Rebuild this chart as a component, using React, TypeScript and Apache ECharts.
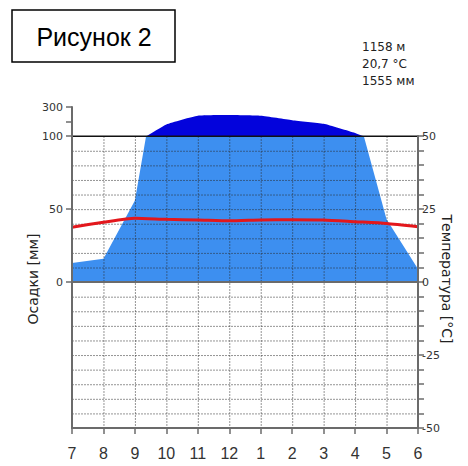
import React, { useEffect, useRef } from "react";
import * as echarts from "echarts";

const months = ["7", "8", "9", "10", "11", "12", "1", "2", "3", "4", "5", "6"];
const precipitation = [13, 16, 56, 180, 240, 245, 240, 210, 185, 122, 43, 9];
const temperature = [18.8, 20.5, 21.9, 21.5, 21.3, 21.0, 21.3, 21.4, 21.3, 20.7, 20.1, 19.0];
const leftTickValues = [0, 25, 50, 55, 60];
const leftLabelValues = [0, 25, 50, 60];
const leftLabelText: Record<number, string> = { 0: "0", 25: "50", 50: "100", 60: "300" };
const infoLines = ["1158 м", "20,7 °C", "1555 мм"];
const figureTitle = "Рисунок 2";

const LIGHT = "#3d8ff0";
const DARK = "#0303dc";
const RED = "#e3171c";
const AXIS = "#6b6b6b";

// precipitation (mm) -> temperature-equivalent scale (Walter-Lieth)
const toScale = (p: number) => (p <= 100 ? p / 2 : 50 + (p - 100) / 20);

function lightPoints(): number[][] {
  const pts: number[][] = [];
  for (let i = 0; i < precipitation.length; i++) {
    const p = precipitation[i];
    pts.push([i, Math.min(p, 100) / 2]);
    if (i < precipitation.length - 1) {
      const q = precipitation[i + 1];
      if ((p - 100) * (q - 100) < 0) {
        pts.push([i + (100 - p) / (q - p), 50]);
      }
    }
  }
  pts.push([precipitation.length - 1, 0]);
  pts.push([0, 0]);
  return pts;
}

function darkPoints(): number[][] {
  const pts: number[][] = [];
  for (let i = 0; i < precipitation.length; i++) {
    const p = precipitation[i];
    pts.push([i, Math.max(50, toScale(p))]);
    if (i < precipitation.length - 1) {
      const q = precipitation[i + 1];
      if ((p - 100) * (q - 100) < 0) {
        pts.push([i + (100 - p) / (q - p), 50]);
      }
    }
  }
  pts.push([precipitation.length - 1, 50]);
  pts.push([0, 50]);
  return pts;
}

function gridLines(): number[][] {
  const lines: number[][] = [];
  for (let i = 1; i < months.length - 1; i++) lines.push([i, -50, i, 50]);
  for (let v = -45; v <= 45; v += 5) {
    if (v !== 0) lines.push([0, v, months.length - 1, v]);
  }
  return lines;
}

export default function App() {
  const ref = useRef<HTMLDivElement>(null);

  useEffect(() => {
    if (!ref.current) return;
    const chart = echarts.init(ref.current, undefined, { renderer: "svg" });
    const last = months.length - 1;

    const option: any = {
      animation: false,
      backgroundColor: "#ffffff",
      grid: [
        { left: 72, right: 50, top: 107, bottom: 38 },
        { left: 72, right: 50, top: 136, bottom: 38 },
      ],
      xAxis: [
        {
          type: "value",
          gridIndex: 0,
          min: 0,
          max: last,
          interval: 1,
          z: 5,
          axisLine: { show: true, onZero: false, lineStyle: { color: AXIS, width: 2 } },
          axisTick: { show: true, length: 6, lineStyle: { color: AXIS, width: 1.5 } },
          axisLabel: {
            margin: 17,
            color: "#333",
            fontSize: 16,
            fontFamily: "Liberation Sans",
            formatter: (v: number) => months[Math.round(v)] ?? "",
          },
          splitLine: { show: false },
        },
        {
          type: "value",
          gridIndex: 1,
          min: 0,
          max: last,
          show: false,
        },
      ],
      yAxis: [
        {
          type: "value",
          gridIndex: 0,
          position: "left",
          min: -50,
          max: 60,
          interval: 5,
          z: 5,
          axisLine: { show: true, onZero: false, lineStyle: { color: AXIS, width: 2 } },
          axisTick: {
            show: true,
            length: 6,
            customValues: leftTickValues,
            lineStyle: { color: AXIS, width: 1.5 },
          },
          axisLabel: {
            margin: 9,
            color: "#333",
            fontSize: 11,
            fontFamily: "DejaVu Sans",
            customValues: leftLabelValues,
            formatter: (v: number) => leftLabelText[v] ?? "",
          },
          splitLine: { show: false },
        },
        {
          type: "value",
          gridIndex: 1,
          position: "right",
          min: -50,
          max: 50,
          interval: 5,
          z: 5,
          axisLine: { show: true, onZero: false, lineStyle: { color: AXIS, width: 2 } },
          axisTick: { show: true, length: 6, lineStyle: { color: AXIS, width: 1.5 } },
          axisLabel: {
            margin: 4,
            color: "#333",
            fontSize: 11,
            fontFamily: "DejaVu Sans",
            formatter: (v: number) => (v % 25 === 0 ? String(v) : ""),
          },
          splitLine: { show: false },
        },
      ],
      series: [
        {
          type: "custom",
          name: "humid",
          xAxisIndex: 0,
          yAxisIndex: 0,
          z: 1,
          silent: true,
          data: [[0, 0]],
          renderItem: (params: any, api: any) => ({
            type: "polygon",
            shape: { points: lightPoints().map((p) => api.coord(p)) },
            style: { fill: LIGHT },
          }),
        },
        {
          type: "custom",
          name: "perhumid",
          xAxisIndex: 0,
          yAxisIndex: 0,
          z: 1,
          silent: true,
          data: [[0, 50]],
          renderItem: (params: any, api: any) => ({
            type: "polygon",
            shape: { points: darkPoints().map((p) => api.coord(p)), smooth: 0.15 },
            style: { fill: DARK },
          }),
        },
        {
          type: "custom",
          name: "grid",
          xAxisIndex: 0,
          yAxisIndex: 0,
          z: 2,
          silent: true,
          encode: { x: [0, 2], y: [1, 3] },
          data: gridLines(),
          renderItem: (params: any, api: any) => {
            const a = api.coord([api.value(0), api.value(1)]);
            const b = api.coord([api.value(2), api.value(3)]);
            return {
              type: "line",
              shape: { x1: a[0] + 0.5, y1: a[1] + 0.5, x2: b[0] + 0.5, y2: b[1] + 0.5 },
              style: { stroke: "#2a2a2a", lineWidth: 1, lineDash: [1, 2] },
            };
          },
        },
        {
          type: "custom",
          name: "refLines",
          xAxisIndex: 0,
          yAxisIndex: 0,
          z: 3,
          silent: true,
          encode: { x: [0, 2], y: [1, 3] },
          data: [
            [0, 0, last, 0, 0],
            [0, 50, last, 50, 1],
          ],
          renderItem: (params: any, api: any) => {
            const a = api.coord([api.value(0), api.value(1)]);
            const b = api.coord([api.value(2), api.value(3)]);
            const top = api.value(4) === 1;
            return {
              type: "line",
              shape: { x1: a[0], y1: a[1], x2: b[0], y2: b[1] },
              style: { stroke: top ? "#111" : AXIS, lineWidth: top ? 1.5 : 2 },
            };
          },
        },
        {
          type: "line",
          name: "temperature",
          xAxisIndex: 0,
          yAxisIndex: 0,
          z: 4,
          smooth: 0.2,
          symbol: "none",
          lineStyle: { color: RED, width: 3 },
          data: temperature.map((t, i) => [i, t]),
        },
      ],
      graphic: [
        {
          type: "rect",
          shape: { x: 12, y: 10, width: 163, height: 52 },
          style: { fill: "#fff", stroke: "#000", lineWidth: 1.5 },
        },
        {
          type: "text",
          x: 94,
          y: 37,
          style: {
            text: figureTitle,
            fill: "#000",
            fontSize: 25,
            fontFamily: "Liberation Sans",
            align: "center",
            verticalAlign: "middle",
          },
        },
        ...infoLines.map((t, i) => ({
          type: "text",
          x: 362,
          y: 47 + i * 17,
          style: {
            text: t,
            fill: "#222",
            fontSize: 12,
            fontFamily: "DejaVu Sans",
            align: "left",
            verticalAlign: "middle",
          },
        })),
        {
          type: "text",
          x: 33,
          y: 279,
          rotation: Math.PI / 2,
          style: {
            text: "Осадки [мм]",
            fill: "#222",
            fontSize: 14,
            fontFamily: "DejaVu Sans",
            align: "center",
            verticalAlign: "middle",
          },
        },
        {
          type: "text",
          x: 447,
          y: 279,
          rotation: -Math.PI / 2,
          style: {
            text: "Температура [°C]",
            fill: "#222",
            fontSize: 14,
            fontFamily: "DejaVu Sans",
            align: "center",
            verticalAlign: "middle",
          },
        },
      ],
    };

    chart.setOption(option);
    return () => chart.dispose();
  }, []);

  return (
    <div
      ref={ref}
      style={{ position: "absolute", left: 0, top: 0, width: 468, height: 466 }}
    />
  );
}
